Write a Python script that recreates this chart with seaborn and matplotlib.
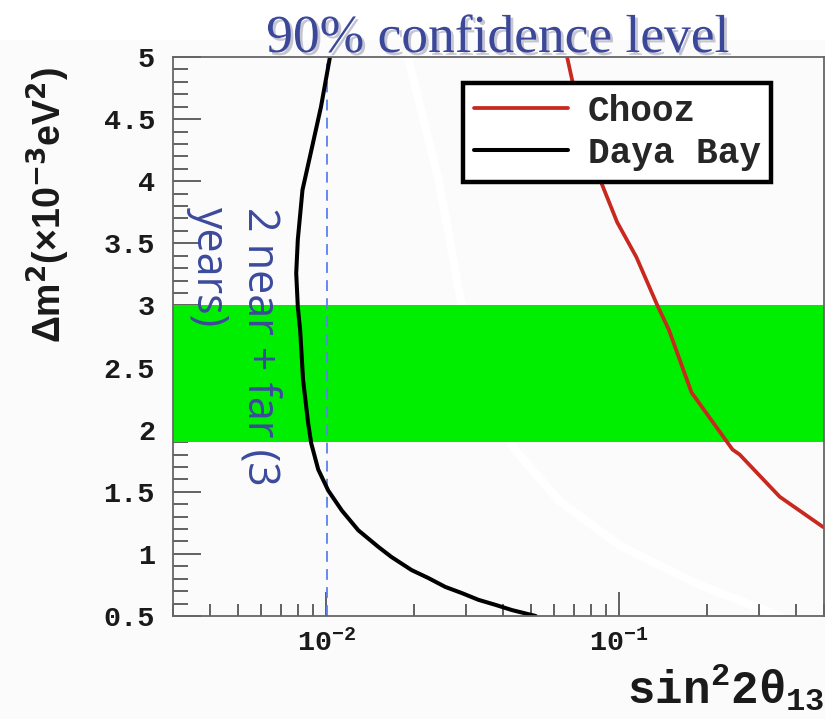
import matplotlib
matplotlib.use("Agg")
import matplotlib.pyplot as plt
import matplotlib.patheffects as pe
from matplotlib.patches import Rectangle
from matplotlib.ticker import (FixedLocator, FixedFormatter, LogLocator,
                               MultipleLocator, NullFormatter)
import seaborn as sns

# Daya Bay sensitivity contour (2 near + far sites, 3 years), 90% C.L.
daya_sin2 = [0.0103, 0.0096, 0.0089, 0.0083, 0.0080, 0.0079, 0.0080, 0.00815,
             0.00834, 0.00868, 0.00889, 0.00939, 0.01016, 0.0113,
             0.01287, 0.01507, 0.0167, 0.01955, 0.0223, 0.0255, 0.029, 0.0331,
             0.0379, 0.0430, 0.0519]
daya_dm2 = [5.0, 4.6, 4.25, 3.93, 3.53, 3.26, 2.99, 2.80, 2.40, 2.05, 1.89,
            1.68, 1.51, 1.35, 1.19, 1.056, 0.975, 0.87, 0.806, 0.734,
            0.685, 0.63, 0.589, 0.548, 0.5]

# Chooz exclusion limit, 90% C.L.
chooz_sin2 = [0.0664, 0.0690, 0.0868, 0.0984, 0.1144, 0.135, 0.148, 0.1765,
              0.2436, 0.2576, 0.353, 0.496, 0.52]
chooz_dm2 = [5.0, 4.82, 3.99, 3.67, 3.39, 3.0, 2.80, 2.30, 1.84, 1.80, 1.46,
             1.217, 1.2]

# whited-out contour left faintly on the panel
trace_sin2 = [0.0191, 0.0242, 0.0288, 0.0437, 0.0622, 0.1, 0.188, 0.353]
trace_dm2 = [4.98, 4.01, 3.04, 1.85, 1.43, 1.07, 0.75, 0.5]

# allowed Delta m^2 band from atmospheric data
band_low, band_high = 1.9, 3.0
# reference sensitivity line
sens_line = 0.0101

ytick_vals = [0.5, 1, 1.5, 2, 2.5, 3, 3.5, 4, 4.5, 5]
ytick_labels = ["0.5", "1", "1.5", "2", "2.5", "3", "3.5", "4", "4.5", "5"]
xtick_vals = [0.01, 0.1]
xtick_labels = [r"$10^{-2}$", r"$10^{-1}$"]

sns.set_theme(style="ticks")
plt.rcParams.update({
    "font.family": ["Liberation Mono", "DejaVu Sans Mono"],
    "font.weight": "bold",
    "mathtext.fontset": "custom",
    "mathtext.rm": "Liberation Mono:bold",
    "mathtext.it": "Liberation Mono:bold",
    "mathtext.bf": "Liberation Mono:bold",
})

W, H = 825, 719
bg = "#fbfbfb"
fig = plt.figure(figsize=(W / 100, H / 100), dpi=100, facecolor=bg)
fig.add_artist(Rectangle((0, 1 - 40 / H), 1, 40 / H, transform=fig.transFigure,
                         facecolor="white", edgecolor="none", zorder=0))
ax = fig.add_axes([173 / W, 1 - 616 / H, 651 / W, 559 / H])
ax.set_facecolor(bg)
ax.set_xscale("log")
ax.set_xlim(0.003, 0.5)
ax.set_ylim(0.5, 5)

sns.lineplot(x=trace_sin2, y=trace_dm2, sort=False, estimator=None,
             color="white", lw=6, ax=ax, zorder=0.5, legend=False)
ax.axhspan(band_low, band_high, color="#00ef00", lw=0, zorder=1)
ax.axvline(sens_line, color="#5b7ff0", lw=1.3, ls=(0, (6, 4)), zorder=2)

sns.lineplot(x=chooz_sin2, y=chooz_dm2, sort=False, estimator=None,
             color="#c8281e", lw=2.7, ax=ax, zorder=3, label="Chooz")
sns.lineplot(x=daya_sin2, y=daya_dm2, sort=False, estimator=None,
             color="black", lw=2.9, ax=ax, zorder=3, label="Daya Bay")

# axes, ticks
for s in ax.spines.values():
    s.set_color("#666666")
    s.set_linewidth(1.3)
    s.set_zorder(4)
ax.yaxis.set_major_locator(FixedLocator(ytick_vals))
ax.yaxis.set_major_formatter(FixedFormatter(ytick_labels))
ax.yaxis.set_minor_locator(MultipleLocator(0.1))
ax.xaxis.set_major_locator(FixedLocator(xtick_vals))
ax.xaxis.set_major_formatter(FixedFormatter(xtick_labels))
ax.xaxis.set_minor_locator(LogLocator(base=10, subs=range(2, 10), numticks=20))
ax.xaxis.set_minor_formatter(NullFormatter())
ax.tick_params(which="both", direction="in", color="#555555", width=1.3,
               top=False, right=False, labelsize=20.5, labelcolor="#1a1a1a")
ax.tick_params(axis="y", which="major", length=20, pad=13)
ax.tick_params(axis="y", which="minor", length=11)
ax.tick_params(axis="x", which="major", length=17, pad=9)
ax.tick_params(axis="x", which="minor", length=9)

ax.set_xlabel(r"$\mathrm{sin}^{2}2\theta_{13}$", fontsize=33, color="#1a1a1a",
              ha="left", va="baseline")
ax.xaxis.set_label_coords(0.697, -0.156)
ax.set_ylabel(r"Δm$^{\mathbf{2}}$(×10$^{\mathbf{-3}}$eV$^{\mathbf{2}}$)",
              fontsize=27, family="Liberation Sans", weight="bold",
              color="#1a1a1a", math_fontfamily="dejavusans")
ax.yaxis.set_label_coords(-0.155, 0.735)

leg = ax.legend(loc="upper left", bbox_to_anchor=(0.4455, 0.9535),
                borderaxespad=0, fontsize=26, frameon=True, fancybox=False,
                framealpha=1, facecolor="white", edgecolor="black",
                borderpad=0.3, labelspacing=0.2, handlelength=2.6,
                handletextpad=0.55)
leg.get_frame().set_linewidth(3.2)
leg.set_zorder(6)

# annotation of the configuration
note_kw = dict(transform=ax.transAxes, rotation=270, rotation_mode="anchor",
               ha="left", va="baseline", family="Open Sans", weight="normal",
               fontsize=31, color="#3c4a9c", zorder=5)
ax.text(0.1152, 0.7317, "2 near + far (3", **note_kw)
ax.text(0.0369, 0.7317, "years)", **note_kw)

fig.text(498 / W, 1 - 52 / H, "90% confidence level", family="Liberation Serif",
         weight="normal", fontsize=38.5, color="#3b4899", ha="center",
         va="baseline", zorder=7,
         path_effects=[pe.SimplePatchShadow(offset=(2, -2),
                                            shadow_rgbFace="#8c8ca8", alpha=0.5),
                       pe.Normal()])

fig.savefig("out.png", dpi=100, facecolor=fig.get_facecolor())
